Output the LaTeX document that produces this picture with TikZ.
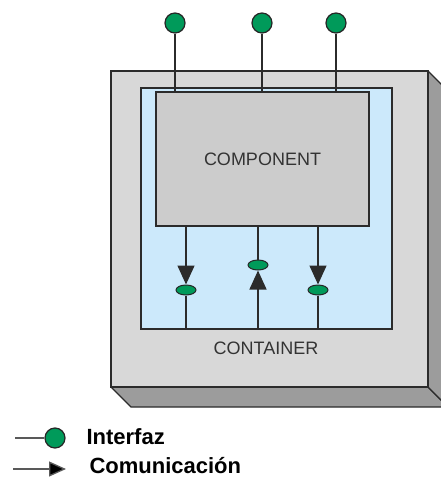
\documentclass[tikz,border=0pt]{standalone}
\usepackage{fontspec}
\setmainfont{Liberation Sans}
\usepackage{tikz}
\usetikzlibrary{arrows.meta,positioning,calc,shapes.geometric}
\definecolor{cface}{HTML}{D8D8D8}
\definecolor{cside}{HTML}{9C9C9C}
\definecolor{cblue}{HTML}{CCE9FB}
\definecolor{cgray}{HTML}{CCCCCC}
\definecolor{cgreen}{HTML}{009A5A}
\definecolor{cline}{HTML}{2B2B2B}

\begin{document}
\begin{tikzpicture}[x=1pt, y=-1pt,
    face/.style={rectangle, draw=cline, line width=1.3pt, fill=cface, inner sep=0pt},
    side/.style={draw=cline, line width=1.3pt, fill=cside, line join=round},
    inner/.style={rectangle, draw=cline, line width=1.1pt, fill=cblue, inner sep=0pt},
    comp/.style={rectangle, draw=cline, line width=1.3pt, fill=cgray, inner sep=0pt, font=\fontsize{18}{21}\selectfont, text=black!80},
    pin/.style={circle, draw=black!85, line width=1.2pt, fill=cgreen, minimum size=20pt, inner sep=0pt},
    port/.style={ellipse, draw=black!85, line width=1pt, fill=cgreen, minimum width=20pt, minimum height=10pt, inner sep=0pt},
    wire/.style={draw=cline, line width=1.3pt},
    arr/.style={wire, -{Triangle[length=19pt, width=17pt]}},
    lbl/.style={font=\fontsize{22}{25}\selectfont\bfseries, text=black, anchor=west}
]
    \useasboundingbox (0,0) rectangle (441,479);
    \clip (0,0) rectangle (441,479);

    % Container box
    \path[side] (111,387) -- (131,407) -- (448,407) -- (428,387) -- cycle;
    \path[side] (428,71) -- (448,91) -- (448,407) -- (428,387) -- cycle;
    \node[face, minimum width=317pt, minimum height=316pt] (container) at (269.5,229) {};
    \node[inner, minimum width=251pt, minimum height=241pt] (area) at (266.5,208.5) {};
    \node[comp, minimum width=213pt, minimum height=134pt] (component) at (262.5,159) {COMPONENT};
    \node[font=\fontsize{18}{21}\selectfont, text=black!80] (clabel) at (266,348) {CONTAINER};

    % Interfaces on top
    \node[pin] (p1) at (175,23) {};
    \node[pin] (p2) at (262,23) {};
    \node[pin] (p3) at (336,23) {};
    \draw[wire] (p1) -- (p1 |- component.north);
    \draw[wire] (p2) -- (p2 |- component.north);
    \draw[wire] (p3) -- (p3 |- component.north);

    % Interfaces inside the container
    \node[port] (q1) at (186,290) {};
    \node[port] (q2) at (258,265) {};
    \node[port] (q3) at (318,290) {};
    \draw[arr] (q1 |- component.south) -- (q1.north);
    \draw[wire] (q1) -- (q1 |- area.south);
    \draw[wire] (q2 |- component.south) -- (q2);
    \draw[arr] (q2 |- area.south) -- (q2.south);
    \draw[arr] (q3 |- component.south) -- (q3.north);
    \draw[wire] (q3) -- (q3 |- area.south);

    % Legend
    \node[pin] (lpin) at (55,438) {};
    \coordinate (l0) at (15,438);
    \draw[wire, draw=black!65] (l0) -- (lpin);
    \node[lbl] (linterfaz) at (83,437) {Interfaz};
    \coordinate (a0) at (13,469);
    \coordinate (a1) at (66,469);
    \draw[wire, draw=black!65, -{Triangle[length=17pt, width=15pt, fill=black]}] (a0) -- (a1);
    \node[lbl] (lcomm) at (86,466) {Comunicación};
\end{tikzpicture}
\end{document}
